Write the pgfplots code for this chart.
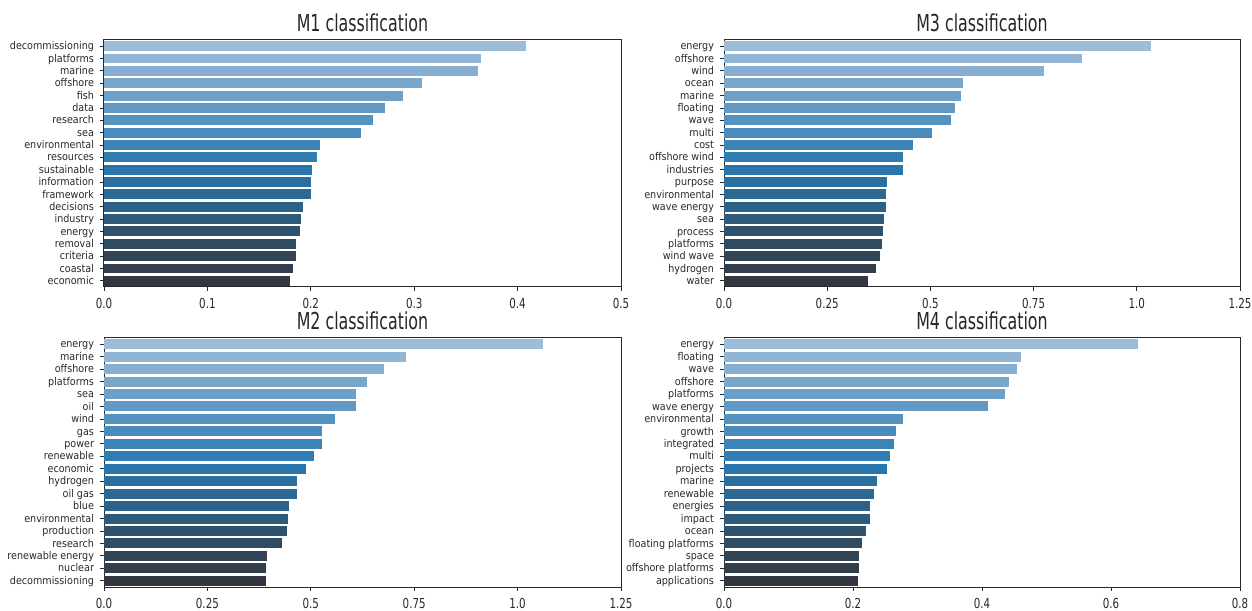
\documentclass[border=0pt]{standalone}
\usepackage{pgfplots}
\usepackage{pgfplotstable}
\pgfplotsset{compat=1.18}
\usepackage{fontspec}
\setmainfont{DejaVu Sans}[FakeStretch=0.85]
\newfontfamily\ylabfont{DejaVu Sans}[FakeStretch=0.9]
\newfontfamily\xlabfont{DejaVu Sans}[FakeStretch=0.75]
\newfontfamily\titlefont{DejaVu Sans}[FakeStretch=0.68]

\definecolor{c0}{RGB}{157,188,216}
\definecolor{c1}{RGB}{145,181,212}
\definecolor{c2}{RGB}{133,174,208}
\definecolor{c3}{RGB}{121,167,204}
\definecolor{c4}{RGB}{109,160,200}
\definecolor{c5}{RGB}{97,153,196}
\definecolor{c6}{RGB}{84,146,192}
\definecolor{c7}{RGB}{72,139,188}
\definecolor{c8}{RGB}{60,132,184}
\definecolor{c9}{RGB}{48,125,180}
\definecolor{c10}{RGB}{42,118,172}
\definecolor{c11}{RGB}{43,111,160}
\definecolor{c12}{RGB}{44,104,148}
\definecolor{c13}{RGB}{45,97,136}
\definecolor{c14}{RGB}{46,90,123}
\definecolor{c15}{RGB}{47,83,111}
\definecolor{c16}{RGB}{48,76,99}
\definecolor{c17}{RGB}{49,69,87}
\definecolor{c18}{RGB}{50,62,75}
\definecolor{c19}{RGB}{51,55,63}
\definecolor{axcol}{RGB}{40,40,40}
\definecolor{txtcol}{RGB}{40,40,40}

\pgfplotstableread[col sep=comma,row sep=\\]{
idx,val,label\\
0,0.408,decommissioning\\
1,0.365,platforms\\
2,0.362,marine\\
3,0.308,offshore\\
4,0.289,fish\\
5,0.272,data\\
6,0.260,research\\
7,0.249,sea\\
8,0.209,environmental\\
9,0.206,resources\\
10,0.201,sustainable\\
11,0.200,information\\
12,0.200,framework\\
13,0.192,decisions\\
14,0.191,industry\\
15,0.190,energy\\
16,0.186,removal\\
17,0.186,criteria\\
18,0.183,coastal\\
19,0.180,economic\\
}\tblMone

\pgfplotstableread[col sep=comma,row sep=\\]{
idx,val,label\\
0,1.034,energy\\
1,0.868,offshore\\
2,0.776,wind\\
3,0.580,ocean\\
4,0.574,marine\\
5,0.560,floating\\
6,0.549,wave\\
7,0.505,multi\\
8,0.458,cost\\
9,0.433,offshore wind\\
10,0.433,industries\\
11,0.394,purpose\\
12,0.392,environmental\\
13,0.392,wave energy\\
14,0.388,sea\\
15,0.384,process\\
16,0.383,platforms\\
17,0.377,wind wave\\
18,0.369,hydrogen\\
19,0.350,water\\
}\tblMthree

\pgfplotstableread[col sep=comma,row sep=\\]{
idx,val,label\\
0,1.062,energy\\
1,0.730,marine\\
2,0.677,offshore\\
3,0.635,platforms\\
4,0.610,sea\\
5,0.610,oil\\
6,0.558,wind\\
7,0.527,gas\\
8,0.527,power\\
9,0.508,renewable\\
10,0.489,economic\\
11,0.466,hydrogen\\
12,0.467,oil gas\\
13,0.447,blue\\
14,0.444,environmental\\
15,0.442,production\\
16,0.431,research\\
17,0.394,renewable energy\\
18,0.392,nuclear\\
19,0.392,decommissioning\\
}\tblMtwo

\pgfplotstableread[col sep=comma,row sep=\\]{
idx,val,label\\
0,0.642,energy\\
1,0.461,floating\\
2,0.455,wave\\
3,0.442,offshore\\
4,0.435,platforms\\
5,0.410,wave energy\\
6,0.277,environmental\\
7,0.266,growth\\
8,0.264,integrated\\
9,0.257,multi\\
10,0.253,projects\\
11,0.237,marine\\
12,0.232,renewable\\
13,0.227,energies\\
14,0.227,impact\\
15,0.220,ocean\\
16,0.214,floating platforms\\
17,0.209,space\\
18,0.209,offshore platforms\\
19,0.207,applications\\
}\tblMfour

\pgfplotsset{
  panel/.style={
    scale only axis,
    anchor=south west,
    y dir=reverse,
    ymin=-0.5, ymax=19.5,
    xmin=0,
    ytick={0,...,19},
    tick align=outside,
    xtick pos=bottom,
    ytick pos=left,
    major tick length=3pt,
    axis line style={draw=axcol, line width=0.75pt},
    every tick/.style={draw=axcol, line width=0.6pt},
    yticklabel style={font=\ylabfont\fontsize{8}{9}\selectfont, text=txtcol, anchor=mid east, xshift=-1pt},
    xticklabel style={font=\xlabfont\fontsize{10.3}{11}\selectfont, text=txtcol, yshift=-2pt},
    every axis title/.style={at={(0.5,1)}, anchor=base, inner sep=0pt, yshift=6.4pt,
      font=\titlefont\fontsize{17.5}{19}\selectfont, text=black!85},
    clip=false,
  },
  barstyle/.style={xbar, bar shift=0pt, bar width=0.8, draw=none, fill=c#1},
}

\begin{document}
\begin{tikzpicture}
\useasboundingbox (0,0) rectangle (939pt,457.5pt);

\begin{axis}[panel, at={(78pt,242.25pt)}, width=387.75pt, height=185.25pt,
  xmax=0.5, xtick={0,0.1,0.2,0.3,0.4,0.5},
  xticklabels={0.0,0.1,0.2,0.3,0.4,0.5},
  yticklabels from table={\tblMone}{label},
  title={M1 classification}]
\pgfplotsinvokeforeach{0,...,19}{
  \addplot[barstyle=#1, restrict expr to domain={\thisrow{idx}}{#1:#1}] table[x=val,y=idx]{\tblMone};
}
\end{axis}

\begin{axis}[panel, at={(543pt,242.25pt)}, width=387pt, height=185.25pt,
  xmax=1.25, xtick={0,0.25,0.5,0.75,1.0,1.25},
  xticklabels={0.0,0.25,0.5,0.75,1.0,1.25},
  yticklabels from table={\tblMthree}{label},
  title={M3 classification}]
\pgfplotsinvokeforeach{0,...,19}{
  \addplot[barstyle=#1, restrict expr to domain={\thisrow{idx}}{#1:#1}] table[x=val,y=idx]{\tblMthree};
}
\end{axis}

\begin{axis}[panel, at={(78pt,17.25pt)}, width=387.75pt, height=186.75pt,
  xmax=1.25, xtick={0,0.25,0.5,0.75,1.0,1.25},
  xticklabels={0.0,0.25,0.5,0.75,1.0,1.25},
  yticklabels from table={\tblMtwo}{label},
  title={M2 classification}]
\pgfplotsinvokeforeach{0,...,19}{
  \addplot[barstyle=#1, restrict expr to domain={\thisrow{idx}}{#1:#1}] table[x=val,y=idx]{\tblMtwo};
}
\end{axis}

\begin{axis}[panel, at={(543pt,17.25pt)}, width=387pt, height=186.75pt,
  xmax=0.8, xtick={0,0.2,0.4,0.6,0.8},
  xticklabels={0.0,0.2,0.4,0.6,0.8},
  yticklabels from table={\tblMfour}{label},
  title={M4 classification}]
\pgfplotsinvokeforeach{0,...,19}{
  \addplot[barstyle=#1, restrict expr to domain={\thisrow{idx}}{#1:#1}] table[x=val,y=idx]{\tblMfour};
}
\end{axis}
\end{tikzpicture}
\end{document}
